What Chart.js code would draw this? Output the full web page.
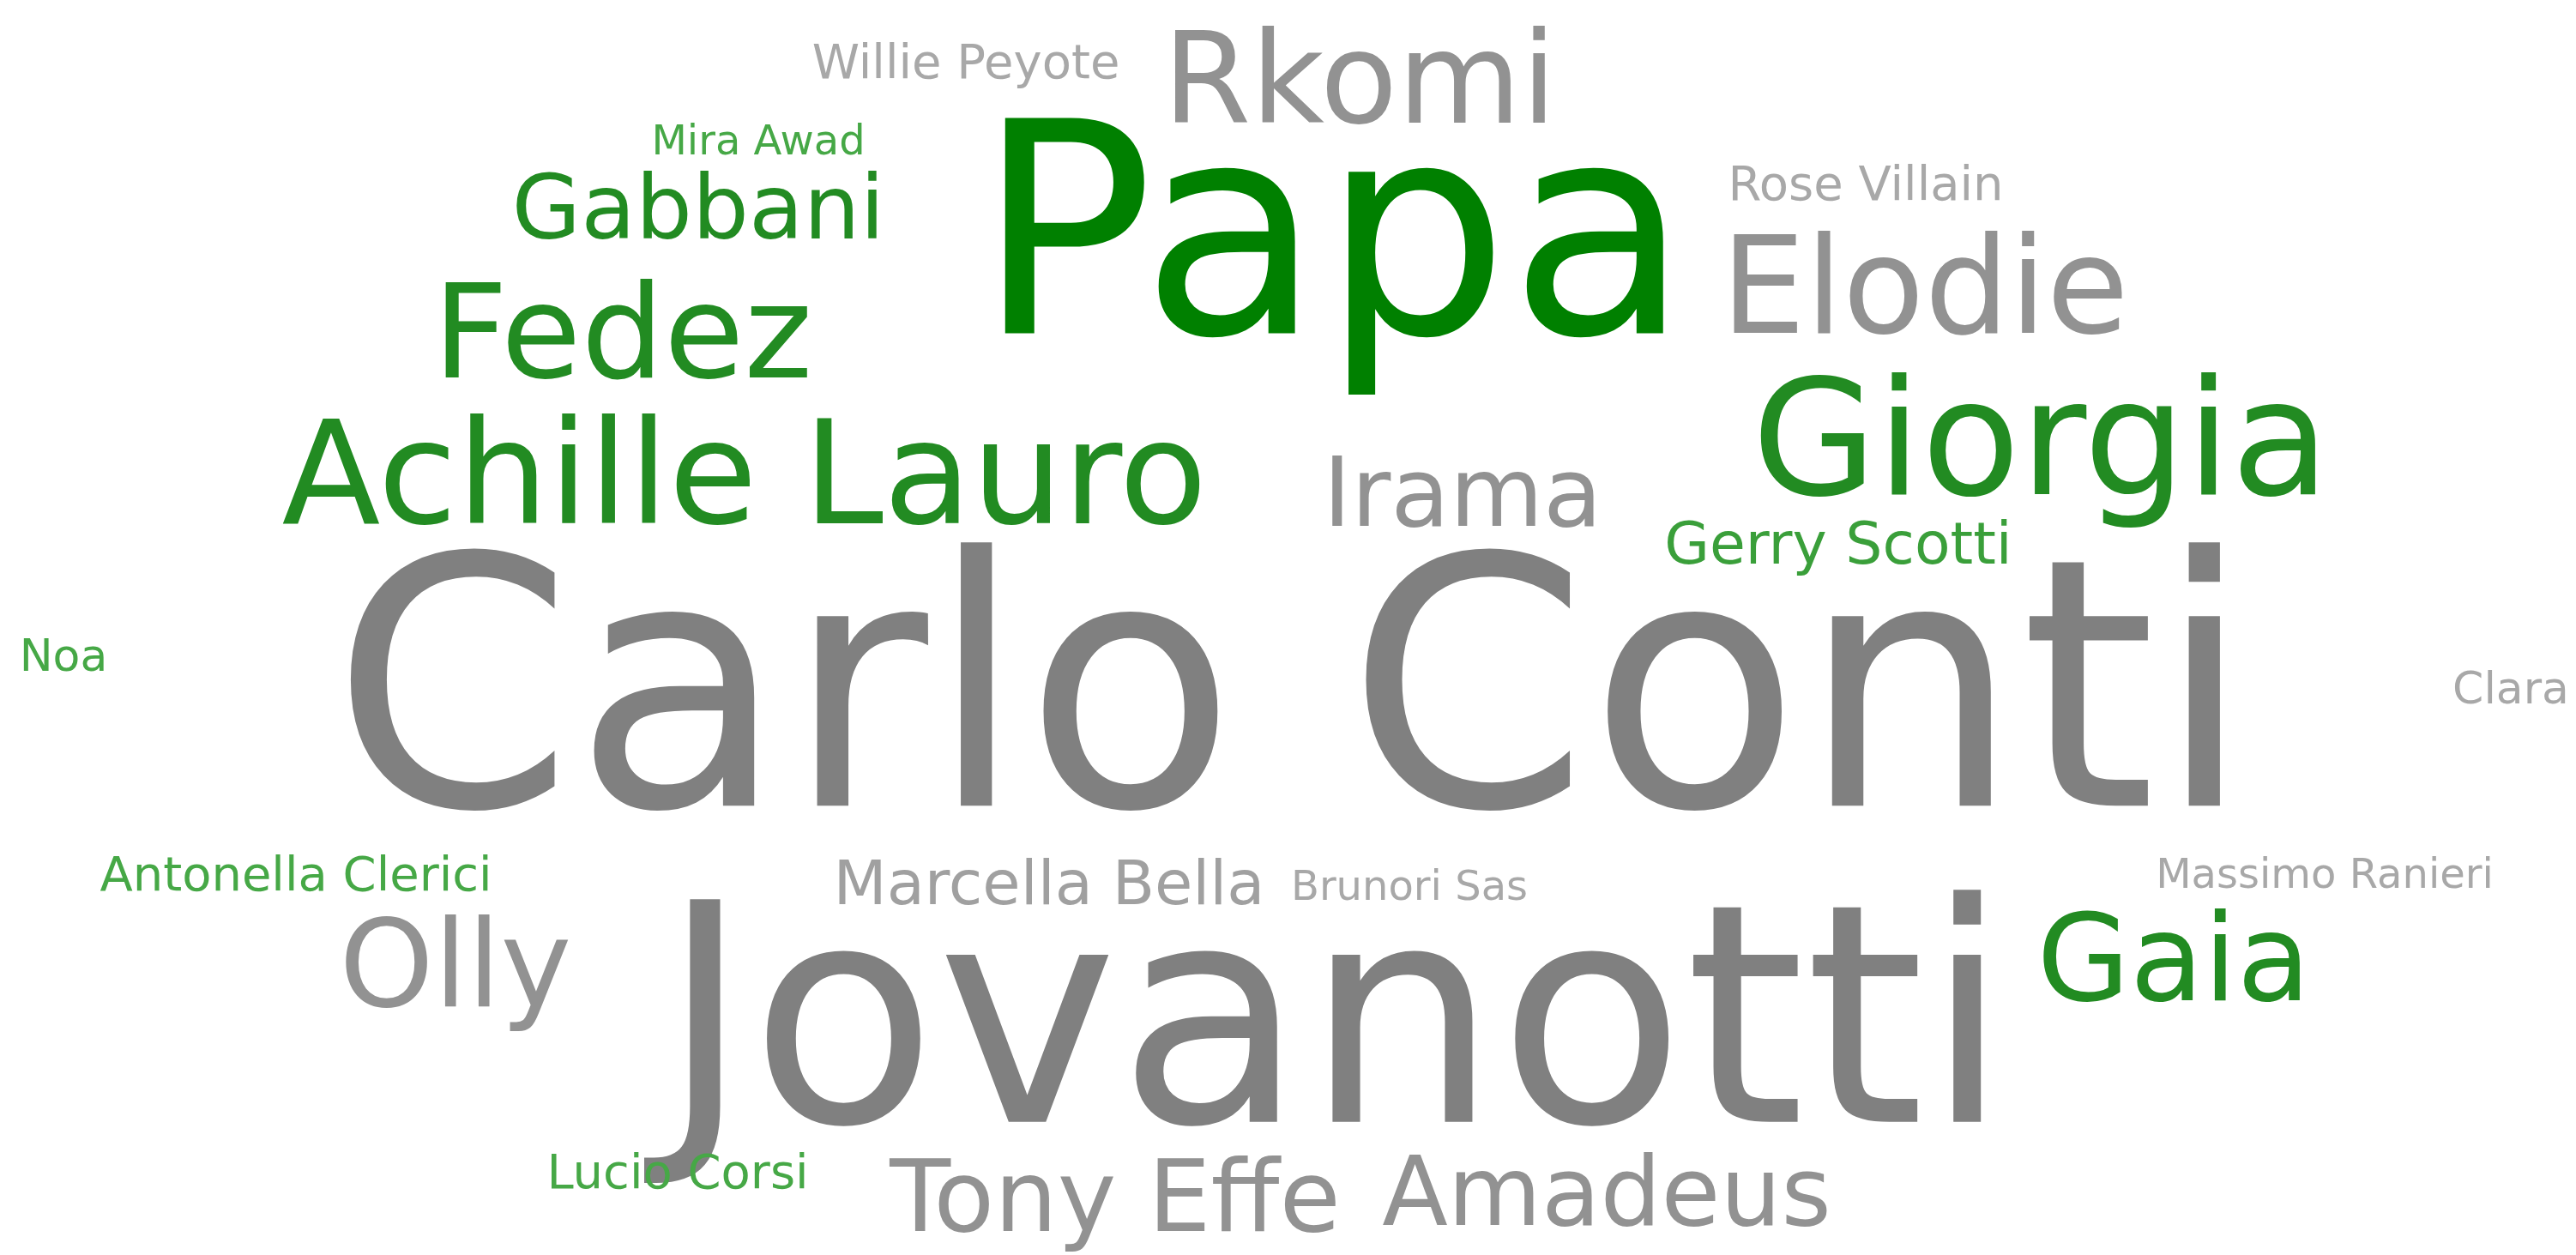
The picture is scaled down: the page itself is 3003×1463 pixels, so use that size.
<!DOCTYPE html>
<html>
<head>
<meta charset="utf-8">
<script src="https://cdn.jsdelivr.net/npm/chart.js@4.4.1/dist/chart.umd.min.js"></script>
<style>
  html, body { margin: 0; padding: 0; background: #ffffff; }
  #cloud { display: block; }
</style>
</head>
<body>
<canvas id="cloud" width="3003" height="1463"></canvas>
<script>
// word cloud data
const words = ['Carlo Conti', 'Jovanotti', 'Papa', 'Giorgia', 'Achille Lauro', 'Elodie', 'Fedez', 'Rkomi',
    'Olly', 'Gaia', 'Tony Effe', 'Amadeus', 'Irama', 'Gabbani', 'Marcella Bella', 'Gerry Scotti',
    'Antonella Clerici', 'Lucio Corsi', 'Willie Peyote', 'Rose Villain', 'Clara', 'Noa', 'Mira Awad',
    'Brunori Sas', 'Massimo Ranieri'];
const weights = [101, 89, 86, 47, 42, 39, 38, 37, 35, 35, 29, 28, 28, 26, 18, 17, 14, 14, 14, 14, 13, 13, 12, 12, 12];
const groups = ['gray', 'gray', 'green', 'green', 'green', 'gray', 'green', 'gray',
    'gray', 'green', 'gray', 'gray', 'gray', 'green', 'gray', 'green',
    'green', 'green', 'gray', 'gray', 'gray', 'green', 'green',
    'gray', 'gray'];
// cloud layout coordinates (word centres, in cloud units)
const layoutX = [1506, 1556, 1554, 2379, 868, 2244, 726, 1585, 531, 2534, 1300, 1873, 1705, 814, 1223, 2143,
    345, 790, 1126, 2175, 2927, 74, 884, 1643, 2710];
const layoutY = [792, 1178, 263, 507, 549, 331, 385, 89, 1122, 1115, 1393, 1387, 572, 240, 1028, 632,
    1018, 1365, 71, 213, 801, 763, 163, 1032, 1018];

const fontScale = 4;

function wordColor(group, weight) {
    if (group === 'green') {
        if (weight >= 80) return '#008000';
        if (weight >= 25) return '#228b22';
        if (weight >= 16) return '#3a9f3a';
        return '#46a846';
    }
    if (weight >= 80) return '#808080';
    if (weight >= 25) return '#929292';
    if (weight >= 16) return '#a0a0a0';
    return '#a8a8a8';
}

// draws each word at the point placed by the scales
const wordPlugin = {
    id: 'wordPlugin',
    afterDatasetsDraw(chart) {
        const ctx = chart.ctx;
        const meta = chart.getDatasetMeta(0);
        ctx.save();
        ctx.textAlign = 'center';
        ctx.textBaseline = 'alphabetic';
        meta.data.forEach((pt, i) => {
            const size = weights[i] * fontScale;
            ctx.font = size + 'px "DejaVu Sans"';
            ctx.fillStyle = wordColor(groups[i], weights[i]);
            // centre on cap height
            ctx.fillText(words[i], pt.x, pt.y + size * 0.3645);
        });
        ctx.restore();
    }
};

new Chart(document.getElementById('cloud'), {
    type: 'scatter',
    data: {
        datasets: [{
            data: words.map((w, i) => ({ x: layoutX[i], y: layoutY[i] })),
            pointRadius: 0,
            pointHoverRadius: 0
        }]
    },
    options: {
        responsive: false,
        animation: false,
        layout: { padding: 0 },
        scales: {
            x: { type: 'linear', min: 0, max: 3003, display: false },
            y: { type: 'linear', min: 0, max: 1463, reverse: true, display: false }
        },
        plugins: {
            legend: { display: false },
            tooltip: { enabled: false }
        }
    },
    plugins: [wordPlugin]
});
</script>
</body>
</html>
